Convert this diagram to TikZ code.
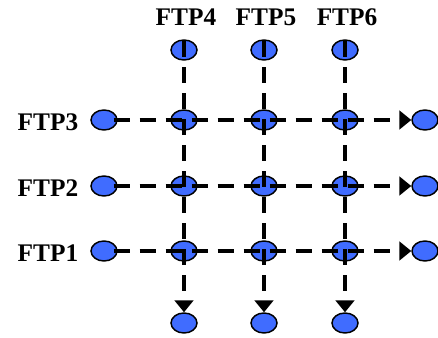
\documentclass[tikz,border=0pt]{standalone}
\usepackage{fontspec}
\setmainfont{Liberation Serif}
\usetikzlibrary{arrows.meta, shapes.geometric}

\definecolor{ftpblue}{RGB}{64,108,255}

\tikzset{
	port/.style = {ellipse, draw = black, line width = 1.1pt, fill = ftpblue,
		minimum width = 19.5pt, minimum height = 15pt, inner sep = 0pt},
	flow/.style = {line width = 3pt, dash pattern = on 12pt off 7.5pt,
		-{Triangle[length = 9pt, width = 14pt]}},
	lbl/.style = {font = \bfseries\fontsize{19}{22}\selectfont}
}

\begin{document}
\begin{tikzpicture}[x = 0.75pt, y = -0.75pt]
		\useasboundingbox (0,0) rectangle (438,338);
		
		% labels
		\node[lbl] (ftp4) at (186,17) {FTP4};
		\node[lbl] (ftp5) at (266,17) {FTP5};
		\node[lbl] (ftp6) at (347,17) {FTP6};
		\node[lbl] (ftp3) at (48,122) {FTP3};
		\node[lbl] (ftp2) at (48,188) {FTP2};
		\node[lbl] (ftp1) at (48,253) {FTP1};
		
		% ports
		\node[port] (top4) at (184,50) {};
		\node[port] (top5) at (264,50) {};
		\node[port] (top6) at (345,50) {};
		\node[port] (bot4) at (184,323) {};
		\node[port] (bot5) at (264,323) {};
		\node[port] (bot6) at (345,323) {};
		\node[port] (in3) at (104,120) {};
		\node[port] (in2) at (104,186) {};
		\node[port] (in1) at (104,251) {};
		\node[port] (out3) at (425,120) {};
		\node[port] (out2) at (425,186) {};
		\node[port] (out1) at (425,251) {};
		\node[port] (x34) at (184,120) {};
		\node[port] (x35) at (264,120) {};
		\node[port] (x36) at (345,120) {};
		\node[port] (x24) at (184,186) {};
		\node[port] (x25) at (264,186) {};
		\node[port] (x26) at (345,186) {};
		\node[port] (x14) at (184,251) {};
		\node[port] (x15) at (264,251) {};
		\node[port] (x16) at (345,251) {};
		
		% flows
		\draw[flow] ([xshift = -3pt]in3.east) -- (out3.west);
		\draw[flow] ([xshift = -3pt]in2.east) -- (out2.west);
		\draw[flow] ([xshift = -3pt]in1.east) -- (out1.west);
		\draw[flow] ([yshift = -1.5pt]top4.north) -- (bot4.north);
		\draw[flow] ([yshift = -1.5pt]top5.north) -- (bot5.north);
		\draw[flow] ([yshift = -1.5pt]top6.north) -- (bot6.north);
	\end{tikzpicture}
\end{document}
